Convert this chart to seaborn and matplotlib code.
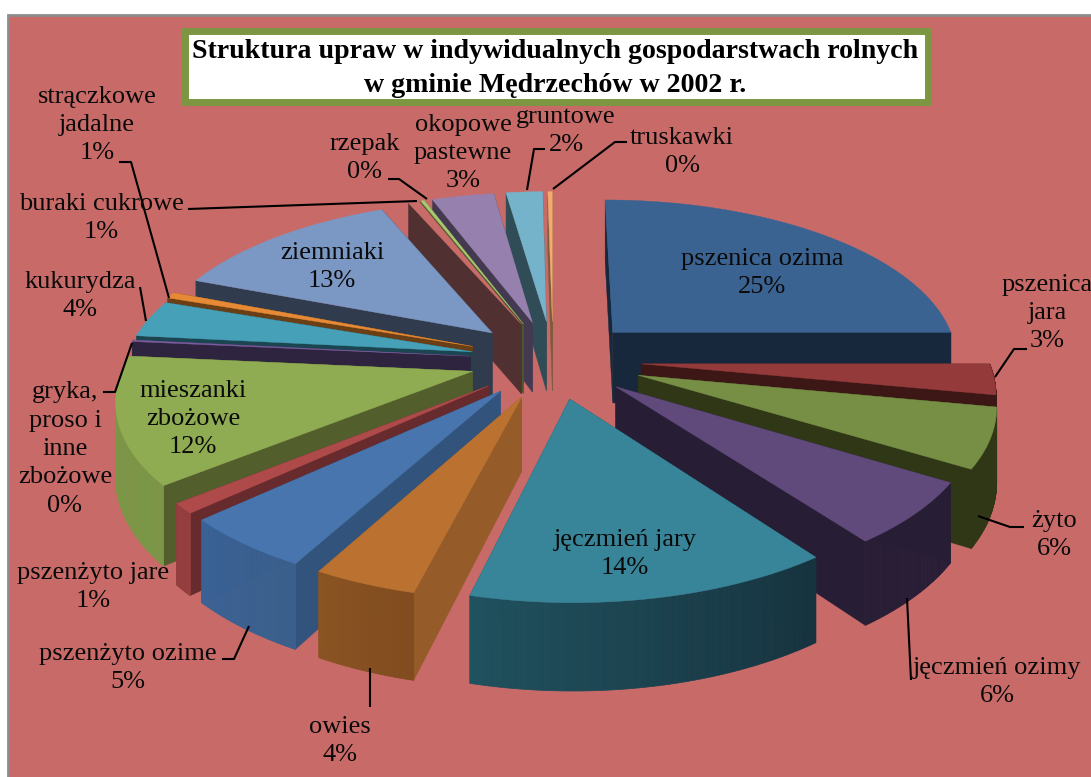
import numpy as np
import matplotlib
matplotlib.use("Agg")
import matplotlib.pyplot as plt
from matplotlib.patches import Polygon, Rectangle
import seaborn as sns

crops = ["pszenica ozima", "pszenica\njara", "żyto", "jęczmień ozimy", "jęczmień jary", "owies",
         "pszenżyto ozime", "pszenżyto jare", "mieszanki\nzbożowe", "gryka,\nproso i\ninne\nzbożowe",
         "kukurydza", "strączkowe\njadalne", "ziemniaki", "buraki cukrowe", "rzepak",
         "okopowe\npastewne", "gruntowe", "truskawki"]
shares = [25.0, 3.0, 5.8, 6.1, 14.0, 4.0, 5.2, 1.0, 12.4, 0.15, 3.65, 0.6, 12.65, 0.6, 0.2, 3.4, 2.0, 0.25]
top_colors = ["#3B6391", "#943A3A", "#778F44", "#604A7B", "#388599", "#BB7231", "#4875AD", "#AE4B4A", "#8FAC52",
              "#7B5E9F", "#46A0B8", "#E68A35", "#7B97C3", "#C76C68", "#A9C86F", "#9681AE", "#75B3CB", "#F5A96F"]
radial_colors = ["#17283C", "#3D1616", "#2F3717", "#271E36", "#1E505C", "#955B28", "#32547C", "#672A2D", "#525F2C",
                 "#2E2440", "#1B4651", "#6B3F15", "#303B4D", "#503031", "#4A5A2C", "#433A52", "#304C56", "#7E5A3B"]
# outer wall colour at the clockwise start and end of each slice
outer_start = ["#17283C", "#3D1616", "#2F3717", "#271E36", "#16333F", "#804C1F", "#3A5F8C", "#943E3F", "#7C9647",
               "#5F4A7C", "#2E7A8D", "#A8662A", "#5C7295", "#8A4A48", "#7F9A50", "#736288", "#5A8A9C", "#B67F55"]
outer_end = ["#17283C", "#3D1616", "#2F3717", "#271E36", "#20515E", "#8A5322", "#3A6296", "#943E3F", "#7C9647",
             "#5F4A7C", "#2E7A8D", "#A8662A", "#5C7295", "#8A4A48", "#7F9A50", "#736288", "#5A8A9C", "#B67F55"]
explode = [0.25, 0.255, 0.26, 0.24, 0.24, 0.24, 0.24, 0.24, 0.24, 0.24, 0.24, 0.25, 0.25, 0.25, 0.25, 0.25, 0.25, 0.25]

# label centre x, centre y of the whole block, from the picture
label_pos = [(762, 273), (1047, 313), (1054, 535), (997, 682), (625, 554), (340, 741), (128, 668), (93, 587),
             (193, 419), (65, 449), (80, 296), (97, 125), (332, 267), (101, 218), (365, 158), (463, 153),
             (566, 131), (682, 152)]
leaders = [[(1027, 349), (1014, 349), (995, 377)], [(1024, 527), (1010, 527), (978, 516)],
           [(911, 680), (907, 598)], [(370, 668), (370, 707)], [(222, 659), (234, 659), (249, 626)],
           [(103, 392), (115, 392), (132, 343)], [(140, 287), (146, 321)],
           [(119, 162), (131, 162), (169, 298)], [(188, 209), (417, 201)],
           [(388, 179), (399, 179), (427, 199)], [(545, 149), (534, 149), (527, 190)],
           [(627, 142), (615, 142), (553, 189)]]
title = "Struktura upraw w indywidualnych gospodarstwach rolnych\nw gminie Mędrzechów w 2002 r."

sns.set_theme(style="white")
plt.rcParams["font.family"] = ["Liberation Serif", "DejaVu Serif"]
pal = sns.color_palette(top_colors)

CX, CY, A, B, P, H = 553, 360, 347, 160, 0.15, 72

def project(u, v, z=0.0):
    d = 1 + P * v
    return CX + A * u / d, CY - B * v / d + z * H / d

fig = plt.figure(figsize=(10.91, 7.77), dpi=100, facecolor="white")
ax = fig.add_axes([0, 0, 1, 1])
ax.set_xlim(0, 1091)
ax.set_ylim(777, 0)
ax.axis("off")
ax.add_patch(Rectangle((7.5, 14.5), 1100, 800, fc="#C86B68", ec="#8C8C8C", lw=2, zorder=0))

vals = np.array(shares)
edges = np.concatenate([[0], np.cumsum(vals)]) / vals.sum() * 2 * np.pi
mids = (edges[:-1] + edges[1:]) / 2
order = np.argsort(-np.cos(mids))
z = 1
for i in order:
    ex, ey = explode[i] * np.sin(mids[i]), explode[i] * np.cos(mids[i])
    th = np.linspace(edges[i], edges[i + 1], 60)
    au, av = ex + np.sin(th), ey + np.cos(th)
    apex_t = project(ex, ey)
    apex_b = project(ex, ey, 1)
    arc_t = np.array(project(au, av)).T
    arc_b = np.array(project(au, av, 1)).T
    for k in (0, -1):
        ax.add_patch(Polygon([apex_t, arc_t[k], arc_b[k], apex_b], fc=radial_colors[i], ec=radial_colors[i], lw=0.3, zorder=z))
    idx = np.where(np.cos(th) < 0.0)[0]
    if len(idx) > 1:
        shades = sns.blend_palette([outer_start[i], outer_end[i]], n_colors=len(idx) - 1)
        for c, j in zip(shades, idx[:-1]):
            ax.add_patch(Polygon([arc_t[j], arc_t[j + 1], arc_b[j + 1], arc_b[j]], fc=c, ec=c, lw=0.5, zorder=z))
    ax.add_patch(Polygon(np.vstack([[apex_t], arc_t]), fc=pal[i], ec=pal[i], lw=0.3, zorder=z))
    z += 1

for pts in leaders:
    xs, ys = zip(*pts)
    ax.plot(xs, ys, color="black", lw=1.5, zorder=50, solid_capstyle="butt")

total = vals.sum()
for name, v, (x, y) in zip(crops, vals, label_pos):
    ax.text(x, y, f"{name}\n{round(v / total * 100)}%", ha="center", va="center", fontsize=19,
            color="#0A0A0A", linespacing=1.38, zorder=60, clip_on=True)

ax.add_patch(Rectangle((184.5, 30.5), 743, 71, fc="white", ec="#7C9641", lw=5, zorder=70))
ax.text(555, 68.5, title, ha="center", va="center", fontsize=20.1, fontweight="bold", color="black",
        linespacing=1.43, zorder=71)
fig.savefig("out.png", dpi=100, facecolor="white")
